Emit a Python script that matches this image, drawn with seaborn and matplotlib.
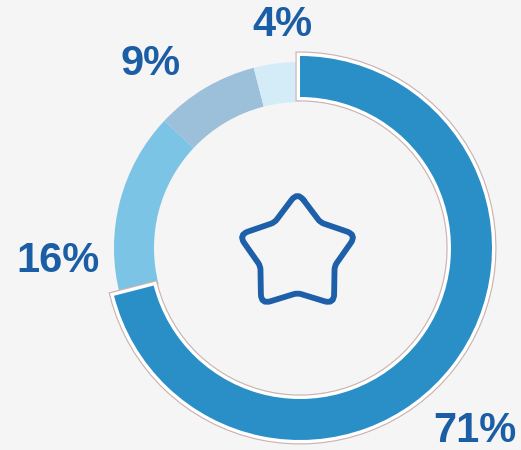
import numpy as np
import matplotlib
matplotlib.use("Agg")
import matplotlib.pyplot as plt
import matplotlib.patheffects as pe
from matplotlib.path import Path
from matplotlib.patches import PathPatch
import seaborn as sns

# Datos
labels = ['71%', '16%', '9%', '4%']
values = [71, 16, 9, 4]
colors = ['#2a8fc6', '#7cc4e6', '#9cbfda', '#d4ebf8']
label_pos = [(475, 431), (58, 261), (151, 64), (282, 25)]

W, H = 521, 450
bg = '#f5f5f5'
text_color = '#1b5ea6'

sns.set_theme(style='white')
plt.rcParams['font.family'] = ['Liberation Sans', 'DejaVu Sans']

fig = plt.figure(figsize=(W / 100, H / 100), dpi=100, facecolor=bg)
ax = fig.add_axes([0, 0, 1, 1])
ax.set_facecolor(bg)

cx, cy = 300, H - 248

# anillo claro (todas menos la principal)
light_colors = ['none'] + colors[1:]
wedges, _ = ax.pie(values, colors=light_colors, startangle=90, counterclock=False,
                   radius=186, center=(cx, cy), frame=True,
                   wedgeprops=dict(width=40, linewidth=0))

# segmento principal, más grande y con borde
dark_colors = [colors[0]] + ['none'] * 3
wedges2, _ = ax.pie(values, colors=dark_colors, startangle=90, counterclock=False,
                    radius=192, center=(cx, cy), frame=True,
                    wedgeprops=dict(width=41, linewidth=0))
wedges2[0].set_path_effects([
    pe.Stroke(linewidth=6.5, foreground='#cbb3b3'),
    pe.Stroke(linewidth=4.8, foreground='white'),
    pe.Normal(),
])

# estrella con puntas redondeadas en el centro
sx, sy = 297.5, H - 254
R, r = 62, 39
ang = np.deg2rad(90 + np.arange(10) * 36)
rad = np.where(np.arange(10) % 2 == 0, R, r)
pts = np.column_stack([sx + rad * np.cos(ang), sy + rad * np.sin(ang)])
verts, codes = [], []
n = len(pts)
for i in range(n):
    p = pts[i]
    f = 0.26 if i % 2 == 0 else 0.1
    a = p + (pts[i - 1] - p) * f
    b = p + (pts[(i + 1) % n] - p) * f
    verts.append(a)
    codes.append(Path.MOVETO if i == 0 else Path.LINETO)
    verts += [p, b]
    codes += [Path.CURVE3, Path.CURVE3]
verts.append(verts[0])
codes.append(Path.LINETO)
star = PathPatch(Path(verts, codes), facecolor='none', edgecolor='#1d5fa8',
                 linewidth=4.2, joinstyle='round', capstyle='round')
ax.add_patch(star)

# etiquetas
for lab, (x, y) in zip(labels, label_pos):
    ax.text(x, H - y, lab, ha='center', va='center', fontsize=30,
            fontweight='bold', color=text_color)

ax.set_xlim(0, W)
ax.set_ylim(0, H)
ax.set_aspect('equal')
ax.axis('off')

fig.savefig('out.png', dpi=100, facecolor=bg)
